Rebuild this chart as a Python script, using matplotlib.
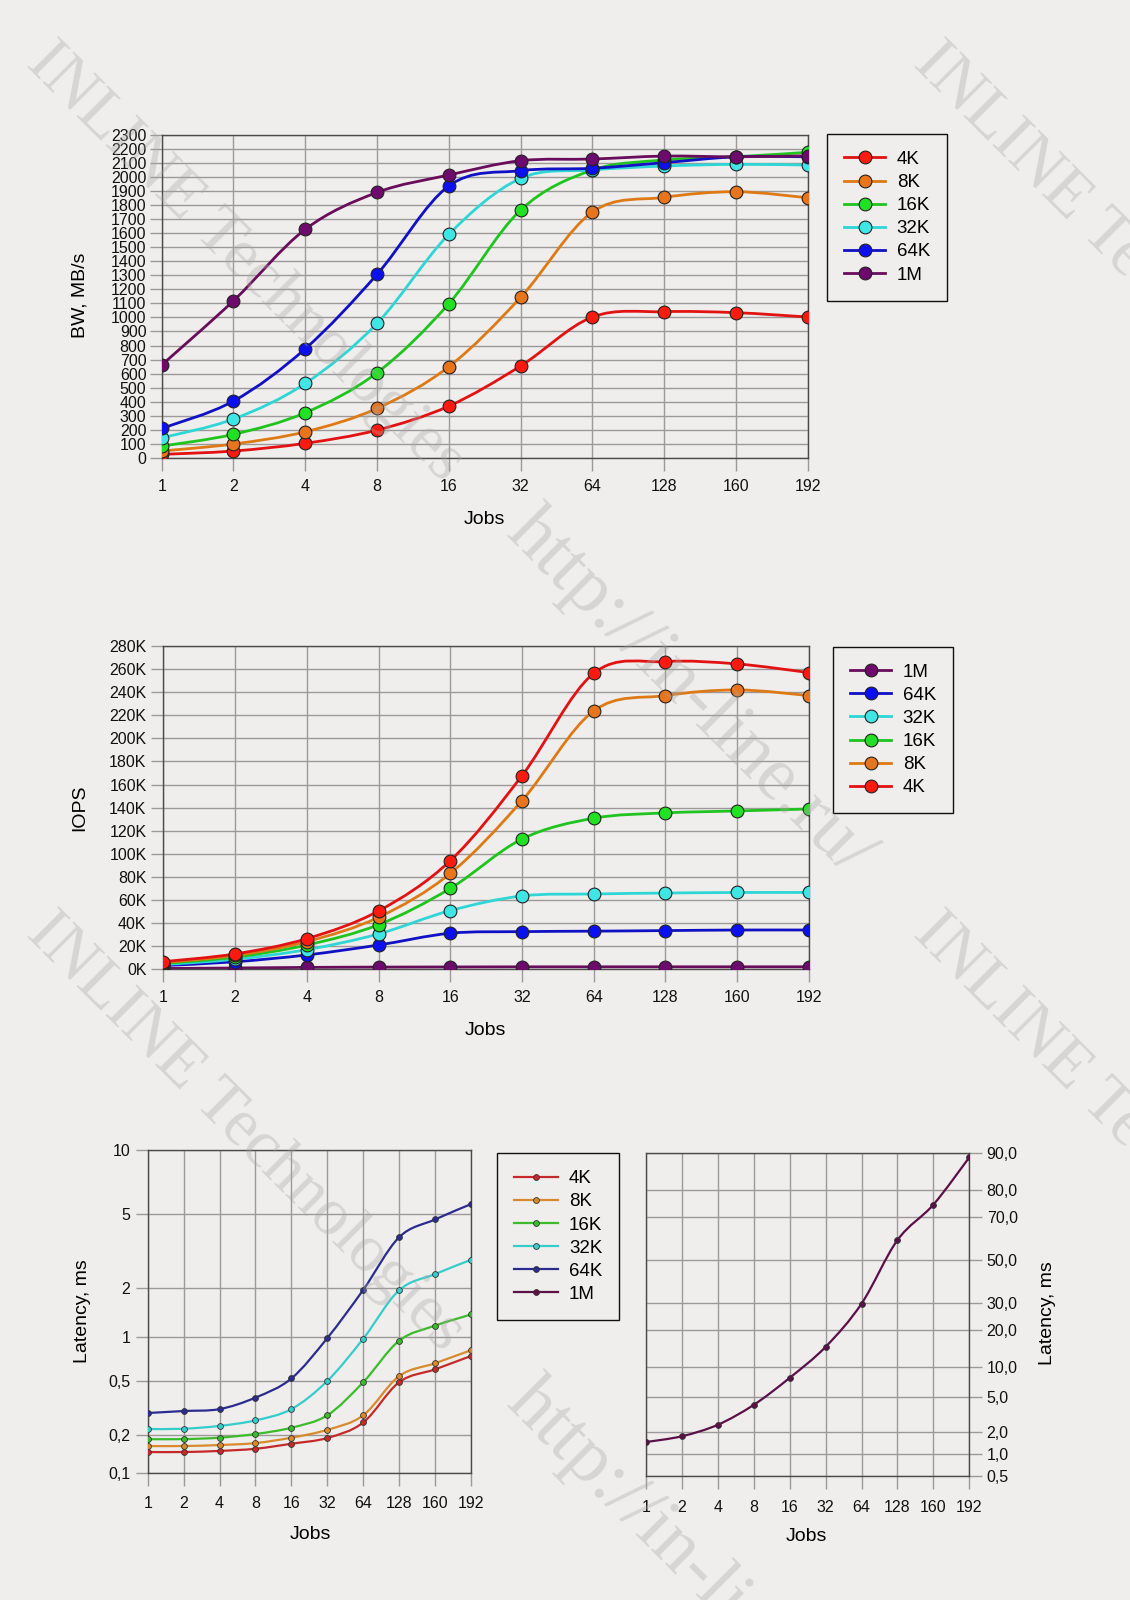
import numpy as np
import matplotlib
matplotlib.use("Agg")
import matplotlib.pyplot as plt
from matplotlib.path import Path
from matplotlib.patches import PathPatch
from matplotlib.lines import Line2D
from matplotlib.ticker import NullLocator

plt.rcParams['font.family'] = ['Liberation Sans', 'DejaVu Sans']

jobs = ['1', '2', '4', '8', '16', '32', '64', '128', '160', '192']

# bandwidth, MB/s
bw_4k = [24, 48, 103, 197, 368, 654, 1003, 1041, 1034, 1003]
bw_8k = [48, 98, 185, 352, 649, 1143, 1751, 1856, 1896, 1853]
bw_16k = [83, 167, 321, 606, 1098, 1765, 2050, 2122, 2145, 2177]
bw_32k = [142, 276, 530, 958, 1592, 1991, 2051, 2079, 2091, 2086]
bw_64k = [209, 404, 777, 1307, 1937, 2046, 2063, 2103, 2145, 2145]
bw_1m = [661, 1119, 1628, 1891, 2015, 2117, 2129, 2150, 2145, 2152]

# IOPS, thousands
iops_4k = [6.6, 13.3, 26.5, 50.5, 94, 167.7, 256.3, 266.4, 264.4, 256.9]
iops_8k = [5.8, 12, 24, 45, 83, 146, 223.7, 237, 241.9, 237]
iops_16k = [5, 10.5, 21, 38.6, 70, 112.8, 130.8, 135.4, 137.1, 138.8]
iops_32k = [4, 8.7, 17, 30.6, 50.8, 63.5, 65.2, 66, 66.5, 66.5]
iops_64k = [3.2, 6.5, 12.4, 21, 31.2, 32.6, 33, 33.5, 34, 34]
iops_1m = [0.66, 1.12, 1.63, 1.89, 2.01, 2.12, 2.13, 2.15, 2.15, 2.15]

# latency, ms
lat_4k = [0.146, 0.146, 0.149, 0.155, 0.17, 0.189, 0.247, 0.49, 0.60, 0.74]
lat_8k = [0.163, 0.163, 0.166, 0.172, 0.19, 0.218, 0.279, 0.54, 0.66, 0.81]
lat_16k = [0.185, 0.185, 0.19, 0.203, 0.226, 0.279, 0.49, 0.94, 1.17, 1.37]
lat_32k = [0.221, 0.222, 0.233, 0.256, 0.31, 0.50, 0.97, 1.93, 2.37, 2.83]
lat_64k = [0.29, 0.30, 0.31, 0.377, 0.52, 0.98, 1.94, 3.75, 4.68, 5.57]
lat_1m = [1.54, 1.8, 2.6, 4.3, 8.2, 15.5, 29.9, 59.2, 74.5, 88.9]

# odd tick spacing of the latency axes
lat_ticks = [0.1, 0.2, 0.5, 1, 2, 5, 10]
lat_ticklabels = ['0,1', '0,2', '0,5', '1', '2', '5', '10']
lat_tickpos = [0, 0.117, 0.284, 0.421, 0.573, 0.801, 1.0]
lat1m_ticks = [0.5, 1, 2, 5, 10, 20, 30, 50, 70, 80, 90]
lat1m_ticklabels = ['0,5', '1,0', '2,0', '5,0', '10,0', '20,0', '30,0', '50,0', '70,0', '80,0', '90,0']
lat1m_tickpos = [0, 0.068, 0.137, 0.246, 0.337, 0.452, 0.535, 0.669, 0.804, 0.886, 1.0]

BG = '#efeeec'
GRID = '#9c9a98'
SPINE = '#4a4a4a'

col_big = {'4K': ('#e31212', '#ff1a10'), '8K': ('#de7a16', '#e8741c'),
           '16K': ('#1fc41f', '#22e022'), '32K': ('#2fd6d6', '#40e6e6'),
           '64K': ('#1010c4', '#0a10f0'), '1M': ('#6a0c5c', '#6e0a6e')}
col_small = {'4K': '#c42a2a', '8K': '#d88a2c', '16K': '#3cbb2c',
             '32K': '#36cccc', '64K': '#2c2c8e', '1M': '#5c1048'}


def ident(v):
    return np.asarray(v, dtype=float)


def lat_fwd(v):
    v = np.clip(np.asarray(v, dtype=float), 1e-4, None)
    return np.interp(np.log10(v), np.log10(lat_ticks), lat_tickpos)


def lat_inv(p):
    return 10 ** np.interp(p, lat_tickpos, np.log10(lat_ticks))


def lat1m_fwd(v):
    return np.interp(np.asarray(v, dtype=float), lat1m_ticks, lat1m_tickpos)


def lat1m_inv(p):
    return np.interp(p, lat1m_tickpos, lat1m_ticks)


def smooth(ax, xs, ys, color, lw, fwd=ident, inv=ident, z=2):
    # Catmull-Rom through the points, drawn as cubic bezier path
    xs = np.asarray(xs, dtype=float)
    ty = fwd(ys)
    n = len(xs)
    verts = [(xs[0], ys[0])]
    codes = [Path.MOVETO]
    for i in range(n - 1):
        i0, i3 = max(i - 1, 0), min(i + 2, n - 1)
        c1 = (xs[i] + (xs[i + 1] - xs[i0]) / 6, float(inv(ty[i] + (ty[i + 1] - ty[i0]) / 6)))
        c2 = (xs[i + 1] - (xs[i3] - xs[i]) / 6, float(inv(ty[i + 1] - (ty[i3] - ty[i]) / 6)))
        verts += [c1, c2, (xs[i + 1], ys[i + 1])]
        codes += [Path.CURVE4] * 3
    ax.add_patch(PathPatch(Path(verts, codes), facecolor='none', edgecolor=color,
                           lw=lw, zorder=z, capstyle='round', joinstyle='round'))


def style(ax):
    ax.set_facecolor(BG)
    for s in ax.spines.values():
        s.set_color(SPINE)
        s.set_linewidth(1.0)
    ax.grid(True, color=GRID, lw=1.0)
    ax.set_axisbelow(True)
    ax.tick_params(axis='both', direction='out', length=9, width=1.0, color=GRID,
                   labelsize=11.5, labelcolor='#111111')
    ax.tick_params(axis='x', pad=6)
    ax.yaxis.set_minor_locator(NullLocator())
    ax.xaxis.set_minor_locator(NullLocator())


def legend(ax, handles, labels, left, top, hl):
    leg = ax.legend(handles, labels, loc='upper left',
                    bbox_to_anchor=(left / 1130, 1 - top / 1600), bbox_transform=fig.transFigure,
                    fontsize=13.5, frameon=True, fancybox=False, framealpha=1, facecolor=BG,
                    edgecolor='#111111', handlelength=hl, handletextpad=0.6,
                    labelspacing=0.32, borderpad=0.9, borderaxespad=0)
    leg.get_frame().set_linewidth(1.0)


fig = plt.figure(figsize=(11.3, 16), dpi=100, facecolor=BG)
x = np.arange(len(jobs))

# ---- BW chart
ax1 = fig.add_axes([0.1431, 0.7139, 0.5717, 0.2017])
style(ax1)
bw_series = [('4K', bw_4k), ('8K', bw_8k), ('16K', bw_16k), ('32K', bw_32k),
             ('64K', bw_64k), ('1M', bw_1m)]
handles = []
for k, (name, vals) in enumerate(bw_series):
    lc, mc = col_big[name]
    smooth(ax1, x, vals, lc, 2.0, z=2 + k * 0.1)
    ax1.plot(x, vals, ls='none', marker='o', ms=9.2, mfc=mc, mec='#222222', mew=0.8,
             zorder=3 + k * 0.1)
    handles.append(Line2D([], [], color=lc, lw=2.0, marker='o', ms=9.2, mfc=mc,
                          mec='#222222', mew=0.8))
ax1.set_xlim(0, 9)
ax1.set_ylim(0, 2300)
ax1.set_xticks(x, jobs)
ax1.set_yticks(range(0, 2301, 100))
ax1.tick_params(axis='y', pad=2)
ax1.set_xlabel('Jobs', fontsize=14)
ax1.set_ylabel('BW, MB/s', fontsize=14)
ax1.xaxis.set_label_coords(0.499, -0.19)
ax1.yaxis.set_label_coords(-0.126, 0.504)
ax1.xaxis.label.set_va('center')
ax1.yaxis.label.set_va('center')
legend(ax1, handles, [s[0] for s in bw_series], 827.3, 134, 2.2)

# ---- IOPS chart
ax2 = fig.add_axes([0.1445, 0.3942, 0.5714, 0.2021])
style(ax2)
iops_series = [('1M', iops_1m), ('64K', iops_64k), ('32K', iops_32k),
               ('16K', iops_16k), ('8K', iops_8k), ('4K', iops_4k)]
handles = []
for k, (name, vals) in enumerate(iops_series):
    lc, mc = col_big[name]
    smooth(ax2, x, vals, lc, 2.0, z=2 + k * 0.1)
    ax2.plot(x, vals, ls='none', marker='o', ms=9.2, mfc=mc, mec='#222222', mew=0.8,
             zorder=3 + k * 0.1)
    handles.append(Line2D([], [], color=lc, lw=2.0, marker='o', ms=9.2, mfc=mc,
                          mec='#222222', mew=0.8))
ax2.set_xlim(0, 9)
ax2.set_ylim(0, 280)
ax2.set_xticks(x, jobs)
ax2.set_yticks(range(0, 281, 20), [f'{v}K' for v in range(0, 281, 20)])
ax2.tick_params(axis='y', pad=3)
ax2.set_xlabel('Jobs', fontsize=14)
ax2.set_ylabel('IOPS', fontsize=14)
ax2.xaxis.set_label_coords(0.499, -0.19)
ax2.yaxis.set_label_coords(-0.129, 0.499)
ax2.xaxis.label.set_va('center')
ax2.yaxis.label.set_va('center')
legend(ax2, handles, [s[0] for s in iops_series], 833.3, 646.7, 2.2)

# ---- latency chart, small blocks
ax3 = fig.add_axes([0.1307, 0.0796, 0.2861, 0.2017])
ax3.set_yscale('function', functions=(lat_fwd, lat_inv))
style(ax3)
lat_series = [('4K', lat_4k), ('8K', lat_8k), ('16K', lat_16k), ('32K', lat_32k),
              ('64K', lat_64k)]
handles = []
for k, (name, vals) in enumerate(lat_series):
    c = col_small[name]
    smooth(ax3, x, vals, c, 1.6, fwd=lat_fwd, inv=lat_inv, z=2 + k * 0.1)
    ax3.plot(x, vals, ls='none', marker='o', ms=4.2, mfc=c, mec='#333333', mew=0.6,
             zorder=3 + k * 0.1)
    handles.append(Line2D([], [], color=c, lw=1.6, marker='o', ms=4.2, mfc=c,
                          mec='#333333', mew=0.6))
handles.append(Line2D([], [], color=col_small['1M'], lw=1.6, marker='o', ms=4.2,
                      mfc=col_small['1M'], mec='#333333', mew=0.6))
ax3.set_xlim(0, 9)
ax3.set_ylim(0.1, 10)
ax3.set_xticks(x, jobs)
ax3.set_yticks(lat_ticks, lat_ticklabels)
ax3.yaxis.set_minor_locator(NullLocator())
ax3.tick_params(axis='x', pad=8)
ax3.set_xlabel('Jobs', fontsize=14)
ax3.set_ylabel('Latency, ms', fontsize=14)
ax3.xaxis.set_label_coords(0.502, -0.193)
ax3.yaxis.set_label_coords(-0.202, 0.502)
ax3.xaxis.label.set_va('center')
ax3.yaxis.label.set_va('center')
legend(ax3, handles, ['4K', '8K', '16K', '32K', '64K', '1M'], 496.7, 1153.3, 2.35)

# ---- latency chart, 1M blocks
ax4 = fig.add_axes([0.5717, 0.0775, 0.2861, 0.2017])
ax4.set_yscale('function', functions=(lat1m_fwd, lat1m_inv))
style(ax4)
smooth(ax4, x, lat_1m, col_small['1M'], 1.6, fwd=lat1m_fwd, inv=lat1m_inv)
ax4.plot(x, lat_1m, ls='none', marker='o', ms=4.2, mfc=col_small['1M'], mec='#333333',
         mew=0.6, zorder=3)
ax4.set_xlim(0, 9)
ax4.set_ylim(0.5, 90)
ax4.set_xticks(x, jobs)
ax4.set_yticks(lat1m_ticks, lat1m_ticklabels)
ax4.yaxis.set_minor_locator(NullLocator())
ax4.yaxis.tick_right()
ax4.tick_params(axis='x', pad=8)
ax4.set_xlabel('Jobs', fontsize=14)
ax4.yaxis.set_label_position('right')
ax4.set_ylabel('Latency, ms', fontsize=14)
ax4.xaxis.set_label_coords(0.497, -0.188)
ax4.yaxis.set_label_coords(1.241, 0.505)
ax4.xaxis.label.set_va('center')
ax4.yaxis.label.set_va('center')

# watermark
wm = dict(family='Liberation Serif', color='#a8a6a4', alpha=0.35,
          rotation=-45, rotation_mode='anchor', ha='left', va='baseline', zorder=10)
for px, py in [(25, 65), (912, 65), (25, 935), (912, 935)]:
    fig.text(px / 1130, 1 - py / 1600, 'INLINE Technologies', fontsize=48, **wm)
for px, py in [(505, 535), (505, 1405)]:
    fig.text(px / 1130, 1 - py / 1600, 'http://in-line.ru/', fontsize=55, **wm)

fig.savefig('out.png', dpi=100, facecolor=BG)
